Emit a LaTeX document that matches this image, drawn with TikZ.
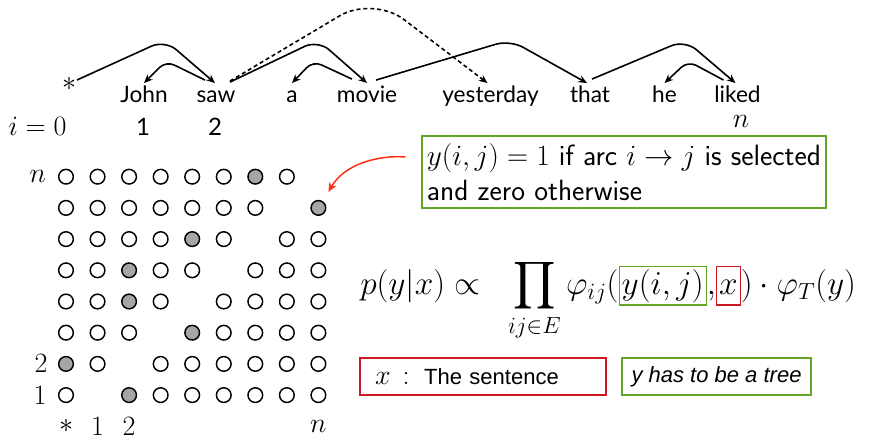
\RequirePackage{fix-cm}
\documentclass[tikz,border=0pt]{standalone}
\usepackage{amsmath}
\usepackage{fontspec}
\newfontfamily\gillfont{Lato}
\newfontfamily\arialfont{Liberation Sans}
\usetikzlibrary{arrows.meta,calc}
\definecolor{boxgreen}{RGB}{100,165,40}
\definecolor{boxred}{RGB}{205,25,35}
\definecolor{arrred}{RGB}{255,45,15}
\definecolor{dotgray}{RGB}{166,166,166}
\newcommand{\gbx}[1]{{\setlength{\fboxsep}{1.5pt}\setlength{\fboxrule}{0.9pt}\fcolorbox{boxgreen}{white}{#1}}}
\newcommand{\rbx}[1]{{\setlength{\fboxsep}{1.5pt}\setlength{\fboxrule}{0.9pt}\fcolorbox{boxred}{white}{#1}}}
% arc: options, start, corner, end, R, control distance
\newcommand{\deparc}[6]{%
  \draw[#1] (#2) -- ($(#3)!#5!(#2)$) .. controls ($(#3)!#6!(#2)$) and ($(#3)!#6!(#4)$) .. ($(#3)!#5!(#4)$) -- (#4);}
\begin{document}
\begin{tikzpicture}[x=0.75pt,y=-0.75pt,
  word/.style={font=\gillfont\fontsize{17}{20}\selectfont, inner sep=0, text height=14pt, text depth=4pt, anchor=base},
  mlab/.style={font=\fontsize{21}{25}\selectfont, inner sep=0},
  dep/.style={line width=1.2pt, -{Stealth[length=6.5pt,width=5.5pt]}},
  dot/.style={circle, draw, line width=1.1pt, minimum size=11pt, inner sep=0},
  gbox/.style={draw=boxgreen, line width=0.9pt},
  rbox/.style={draw=boxred, line width=0.9pt}]
\useasboundingbox (0,0) rectangle (870,439);
% sentence
\node[mlab] (w0) at (69,84) {$\ast$};
\node[word] (w1) at (144,102) {John};
\node[word] (w2) at (216,102) {saw};
\node[word] (w3) at (292,102) {a};
\node[word] (w4) at (367,102) {movie};
\node[word] (w5) at (490.5,102) {yesterday};
\node[word] (w6) at (590,102) {that};
\node[word] (w7) at (664.5,102) {he};
\node[word] (w8) at (737.5,102) {liked};
% indices
\node[mlab, anchor=base] (i0) at (37.5,135) {$i=0$};
\node[word, font=\gillfont\fontsize{18}{22}\selectfont] (i1) at (143,135) {1};
\node[word, font=\gillfont\fontsize{18}{22}\selectfont] (i2) at (215,135) {2};
\node[mlab] (in) at (741,121.5) {$n$};
% arc end points and corners
\coordinate (s1) at ($(w0.center)+(8,-4)$);  \coordinate (k1) at (165,40);  \coordinate (e1) at ($(w2.north)+(-1,0)$);
\coordinate (s2) at ($(w2.north)+(-11,-3)$); \coordinate (k2) at (166,61);  \coordinate (e2) at (w1.north);
\coordinate (s3) at ($(w2.north)+(14,-1)$);  \coordinate (k3) at (318,40);  \coordinate (e3) at (w4.north);
\coordinate (s4) at ($(w4.north)+(-15,-4)$); \coordinate (k4) at (313,61);  \coordinate (e4) at (w3.north);
\coordinate (s5) at ($(w4.north)+(9,-3)$);   \coordinate (k5) at (510,40);  \coordinate (e5) at ($(w6.north)+(-3,0)$);
\coordinate (s6) at ($(w2.north)+(14,-2)$);  \coordinate (k6) at (373,-4);  \coordinate (e6) at ($(w5.north)+(-3,0)$);
\coordinate (s7) at ($(w6.north)+(2,-4)$);   \coordinate (k7) at (685,40);  \coordinate (e7) at ($(w8.north)+(-2,0)$);
\coordinate (s8) at ($(w8.north)+(-14,-3)$); \coordinate (k8) at (688,61);  \coordinate (e8) at (w7.north);
\deparc{dep}{s1}{k1}{e1}{11pt}{5pt}
\deparc{dep}{s2}{k2}{e2}{7pt}{3pt}
\deparc{dep}{s3}{k3}{e3}{11pt}{5pt}
\deparc{dep}{s4}{k4}{e4}{7pt}{3pt}
\deparc{dep}{s5}{k5}{e5}{11pt}{5pt}
\deparc{dep, dash pattern=on 3pt off 2.2pt}{s6}{k6}{e6}{29pt}{13pt}
\deparc{dep}{s7}{k7}{e7}{11pt}{5pt}
\deparc{dep}{s8}{k8}{e8}{7pt}{3pt}
% grid
\foreach \r/\f/\a in {0/6/8,1/8/7,2/4/6,3/2/5,4/2/4,5/4/3,6/0/2,7/2/1}{
  \foreach \c in {0,...,8}{
    \ifnum\c=\a\relax\else
      \ifnum\c=\f\relax
        \node[dot, fill=dotgray] (g-\r-\c) at ({66+31.55*\c},{176.7+31.2*\r}) {};
      \else
        \node[dot] (g-\r-\c) at ({66+31.55*\c},{176.7+31.2*\r}) {};
      \fi
    \fi
  }
}
\node[mlab] (rn) at (37.7,176.7) {$n$};
\node[mlab] (r2) at (41,363) {$2$};
\node[mlab] (r1) at (40,395) {$1$};
\node[mlab] (c0) at (66,426) {$\ast$};
\node[mlab] (c1) at (97.6,426) {$1$};
\node[mlab] (c2) at (129.1,426) {$2$};
\node[mlab] (cn) at (318.4,426) {$n$};
% definition box
\node[gbox, minimum width=303pt, minimum height=54pt, inner xsep=2pt, align=left,
      font=\sffamily\fontsize{22}{26}\selectfont] (defbox) at (624,172)
  {$y(i,j)=1$ if arc $i\rightarrow j$ is selected\\and zero otherwise};
\draw[arrred, line width=1.1pt, -{Stealth[length=7pt,width=6pt]}]
  ($(defbox.west)+(-16,-15)$) .. controls (380,155) and (345,163) .. ($(g-1-8)+(10,-16)$);
% formula
\node[inner sep=0, anchor=base west, font=\fontsize{25}{30}\selectfont] (formula) at (360,294)
  {$\displaystyle p(y|x)\propto\;\;\prod_{ij\in E}\varphi_{ij}(\gbx{$y(i,j)$}{,}\rbx{$\vphantom{(}x$})\cdot\varphi_T(y)$};
% bottom boxes
\node[rbox, minimum height=27.75pt, inner xsep=11.25pt, inner ysep=0pt, text width=162pt, align=left,
      font=\arialfont\fontsize{16.5}{19}\selectfont] (sent) at (483,376.5)
  {{\fontsize{21}{25}\selectfont$x$\ \,$:$}\ \ The sentence};
\node[gbox, minimum width=141.75pt, minimum height=27.75pt, inner ysep=0pt,
      font=\arialfont\itshape\fontsize{16.5}{19}\selectfont] (tree) at (716.5,376.5)
  {y has to be a tree};
\end{tikzpicture}
\end{document}
